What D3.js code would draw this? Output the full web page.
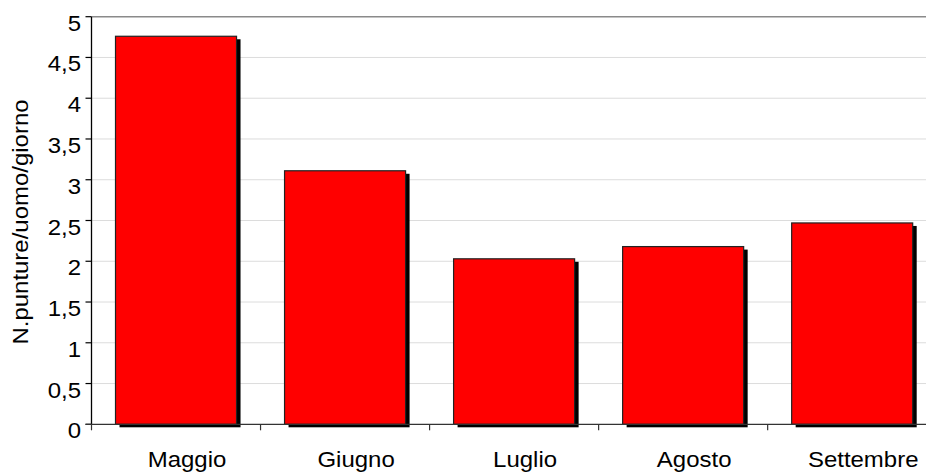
<!DOCTYPE html>
<html>
<head>
<meta charset="utf-8">
<script src="https://cdn.jsdelivr.net/npm/d3@7"></script>
<style>
  html, body { margin: 0; padding: 0; background: #fff; }
  svg { display: block; }
  text { font-family: "Liberation Sans", Arial, sans-serif; fill: #000; }
</style>
</head>
<body>
<svg id="chart" width="926" height="474"></svg>
<script>
// Monthly bite rate (bites per person per day)
const months = ["Maggio", "Giugno", "Luglio", "Agosto", "Settembre"];
const bites = [4.76, 3.11, 2.03, 2.18, 2.47];
const yTicks = [0, 0.5, 1, 1.5, 2, 2.5, 3, 3.5, 4, 4.5, 5];
const yTitle = "N.punture/uomo/giorno";

const svg = d3.select("#chart");
const plotLeft = 91.5, plotRight = 936.7, plotTop = 16.7, plotBottom = 424.3;
const fontSize = 22, stretch = 1.09;
const fmt = v => String(v).replace(".", ",");

const x = d3.scaleBand().domain(months).range([plotLeft, plotRight])
  .paddingInner(0.284).paddingOuter(0.142);
const y = d3.scaleLinear().domain([0, 5]).range([plotBottom, plotTop]);

// Horizontal gridlines
svg.append("g").selectAll("line")
  .data(yTicks.filter(t => t > 0 && t < 5))
  .join("line")
  .attr("x1", plotLeft).attr("x2", 926)
  .attr("y1", d => y(d)).attr("y2", d => y(d))
  .attr("stroke", "#dcdcdc").attr("stroke-width", 1);

// Upper frame line
svg.append("line")
  .attr("x1", plotLeft).attr("x2", 926)
  .attr("y1", y(5)).attr("y2", y(5))
  .attr("stroke", "#8a8a8a").attr("stroke-width", 1.5);

// Bars: black drop shadow, then red fill with dark outline
const barData = months.map((m, i) => ({ m, v: bites[i] }));
const bars = svg.append("g");
bars.selectAll("rect.shadow")
  .data(barData)
  .join("rect").attr("class", "shadow")
  .attr("x", d => x(d.m) + 4)
  .attr("y", d => y(d.v) + 3)
  .attr("width", x.bandwidth())
  .attr("height", d => plotBottom - y(d.v))
  .attr("fill", "#000");
bars.selectAll("rect.bar")
  .data(barData)
  .join("rect").attr("class", "bar")
  .attr("x", d => x(d.m))
  .attr("y", d => y(d.v))
  .attr("width", x.bandwidth())
  .attr("height", d => plotBottom - y(d.v))
  .attr("fill", "#ff0000")
  .attr("stroke", "#222").attr("stroke-width", 1.2);

// Y axis
const yAxis = svg.append("g");
yAxis.append("line")
  .attr("x1", plotLeft).attr("x2", plotLeft)
  .attr("y1", plotTop).attr("y2", plotBottom)
  .attr("stroke", "#000").attr("stroke-width", 1.3);
yAxis.selectAll("line.tick")
  .data(yTicks).join("line").attr("class", "tick")
  .attr("x1", plotLeft - 6).attr("x2", plotLeft)
  .attr("y1", d => y(d)).attr("y2", d => y(d))
  .attr("stroke", "#000").attr("stroke-width", 1.2);
yAxis.selectAll("text")
  .data(yTicks).join("text")
  .attr("transform", d => `translate(${plotLeft - 10.5},${y(d) + 14}) scale(${stretch},1)`)
  .attr("text-anchor", "end")
  .attr("font-size", fontSize)
  .text(fmt);

// X axis
const step = x.step();
const firstEdge = x(months[0]) - (step - x.bandwidth()) / 2;
const boundaries = d3.range(months.length + 1).map(i => firstEdge + i * step);
const xAxis = svg.append("g");
xAxis.append("line")
  .attr("x1", plotLeft - 6).attr("x2", 926)
  .attr("y1", plotBottom).attr("y2", plotBottom)
  .attr("stroke", "#333").attr("stroke-width", 1.3);
xAxis.selectAll("line.tick")
  .data(boundaries).join("line").attr("class", "tick")
  .attr("x1", d => d).attr("x2", d => d)
  .attr("y1", plotBottom).attr("y2", plotBottom + 6)
  .attr("stroke", "#333").attr("stroke-width", 1.2);
xAxis.selectAll("text")
  .data(months).join("text")
  .attr("transform", d => `translate(${x(d) + x.bandwidth() / 2 + 11},467) scale(${stretch},1)`)
  .attr("text-anchor", "middle")
  .attr("font-size", fontSize)
  .text(d => d);

// Y axis title
svg.append("text")
  .attr("transform", `translate(27.7,222) rotate(-90) scale(${stretch},1)`)
  .attr("text-anchor", "middle")
  .attr("font-size", fontSize)
  .text(yTitle);
</script>
</body>
</html>
